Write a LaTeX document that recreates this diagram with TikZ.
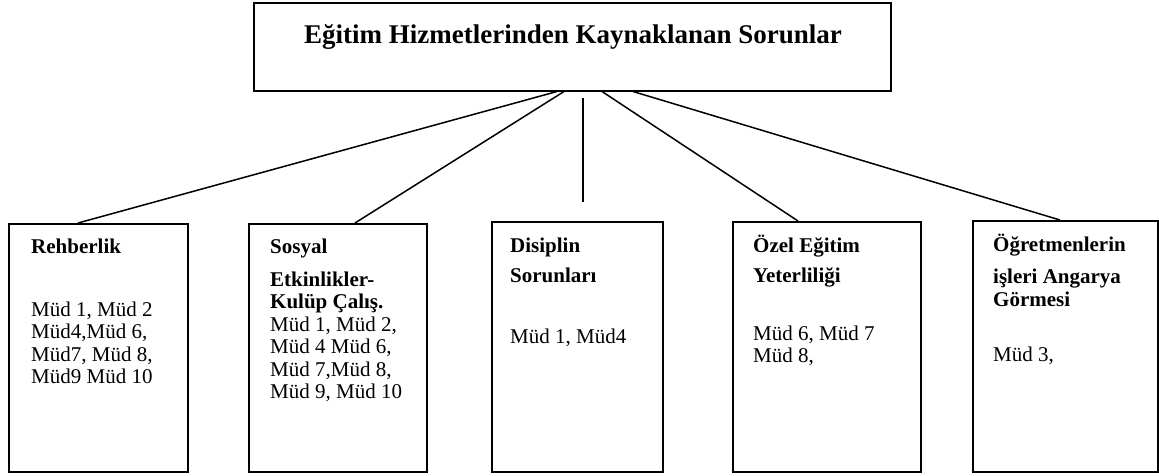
\documentclass[tikz,border=0pt]{standalone}
\usepackage{fontspec}
\setmainfont{Liberation Serif}
\begin{document}
\begin{tikzpicture}[x=1pt,y=-1pt,
  box/.style={draw, line width=1.5pt, inner sep=0pt, anchor=north west},
  lbl/.style={anchor=base west, inner sep=0pt, font=\fontsize{21}{22.5}\selectfont\bfseries},
  txt/.style={anchor=base west, inner sep=0pt, font=\fontsize{21}{22.5}\selectfont},
  conn/.style={line width=1.5pt}]
\useasboundingbox (0,0) rectangle (1159,475);
% top box
\node[box, minimum width=637pt, minimum height=88pt] (top) at (253,2) {};
\node[anchor=base, inner sep=0pt, font=\fontsize{27}{30}\selectfont\bfseries] (title) at (573,43) {Eğitim Hizmetlerinden Kaynaklanan Sorunlar};
% child boxes
\node[box, minimum width=179pt, minimum height=248pt] (b1) at (8,223) {};
\node[box, minimum width=178pt, minimum height=248pt] (b2) at (248,223) {};
\node[box, minimum width=171pt, minimum height=250pt] (b3) at (491,221) {};
\node[box, minimum width=188pt, minimum height=250pt] (b4) at (732,221) {};
\node[box, minimum width=185pt, minimum height=251pt] (b5) at (972,220) {};
% connectors
\draw[conn] ([xshift=304pt]top.south west) -- ([xshift=70pt]b1.north west);
\draw[conn] ([xshift=311pt]top.south west) -- ([xshift=107pt]b2.north west);
\draw[conn] ([xshift=330pt,yshift=-6pt]top.south west) -- ([xshift=92pt,yshift=19pt]b3.north west);
\draw[conn] ([xshift=349pt]top.south west) -- ([xshift=66pt]b4.north west);
\draw[conn] ([xshift=380pt]top.south west) -- ([xshift=88pt]b5.north west);
% box 1 texts
\node[lbl] (b1a) at (31,253) {Rehberlik};
\node[txt] (b1b) at (31,316) {Müd 1, Müd 2};
\node[txt] (b1c) at (31,338) {Müd4,Müd 6,};
\node[txt] (b1d) at (31,361) {Müd7, Müd 8,};
\node[txt] (b1e) at (31,383) {Müd9 Müd 10};
% box 2 texts
\node[lbl] (b2a) at (270,253) {Sosyal};
\node[lbl] (b2b) at (270,286) {Etkinlikler-};
\node[lbl] (b2c) at (270,308) {Kulüp Çalış.};
\node[txt] (b2d) at (270,331) {Müd 1, Müd 2,};
\node[txt] (b2e) at (270,353) {Müd 4 Müd 6,};
\node[txt] (b2f) at (270,376) {Müd 7,Müd 8,};
\node[txt] (b2g) at (270,398) {Müd 9, Müd 10};
% box 3 texts
\node[lbl] (b3a) at (510,252) {Disiplin};
\node[lbl] (b3b) at (510,282) {Sorunları};
\node[txt] (b3c) at (510,343) {Müd 1, Müd4};
% box 4 texts
\node[lbl] (b4a) at (753,252) {Özel Eğitim};
\node[lbl] (b4b) at (753,282) {Yeterliliği};
\node[txt] (b4c) at (753,340) {Müd 6, Müd 7};
\node[txt] (b4d) at (753,362) {Müd 8,};
% box 5 texts
\node[lbl] (b5a) at (993,251) {Öğretmenlerin};
\node[lbl] (b5b) at (993,283) {işleri Angarya};
\node[lbl] (b5c) at (993,306) {Görmesi};
\node[txt] (b5d) at (993,361) {Müd 3,};
\end{tikzpicture}
\end{document}
